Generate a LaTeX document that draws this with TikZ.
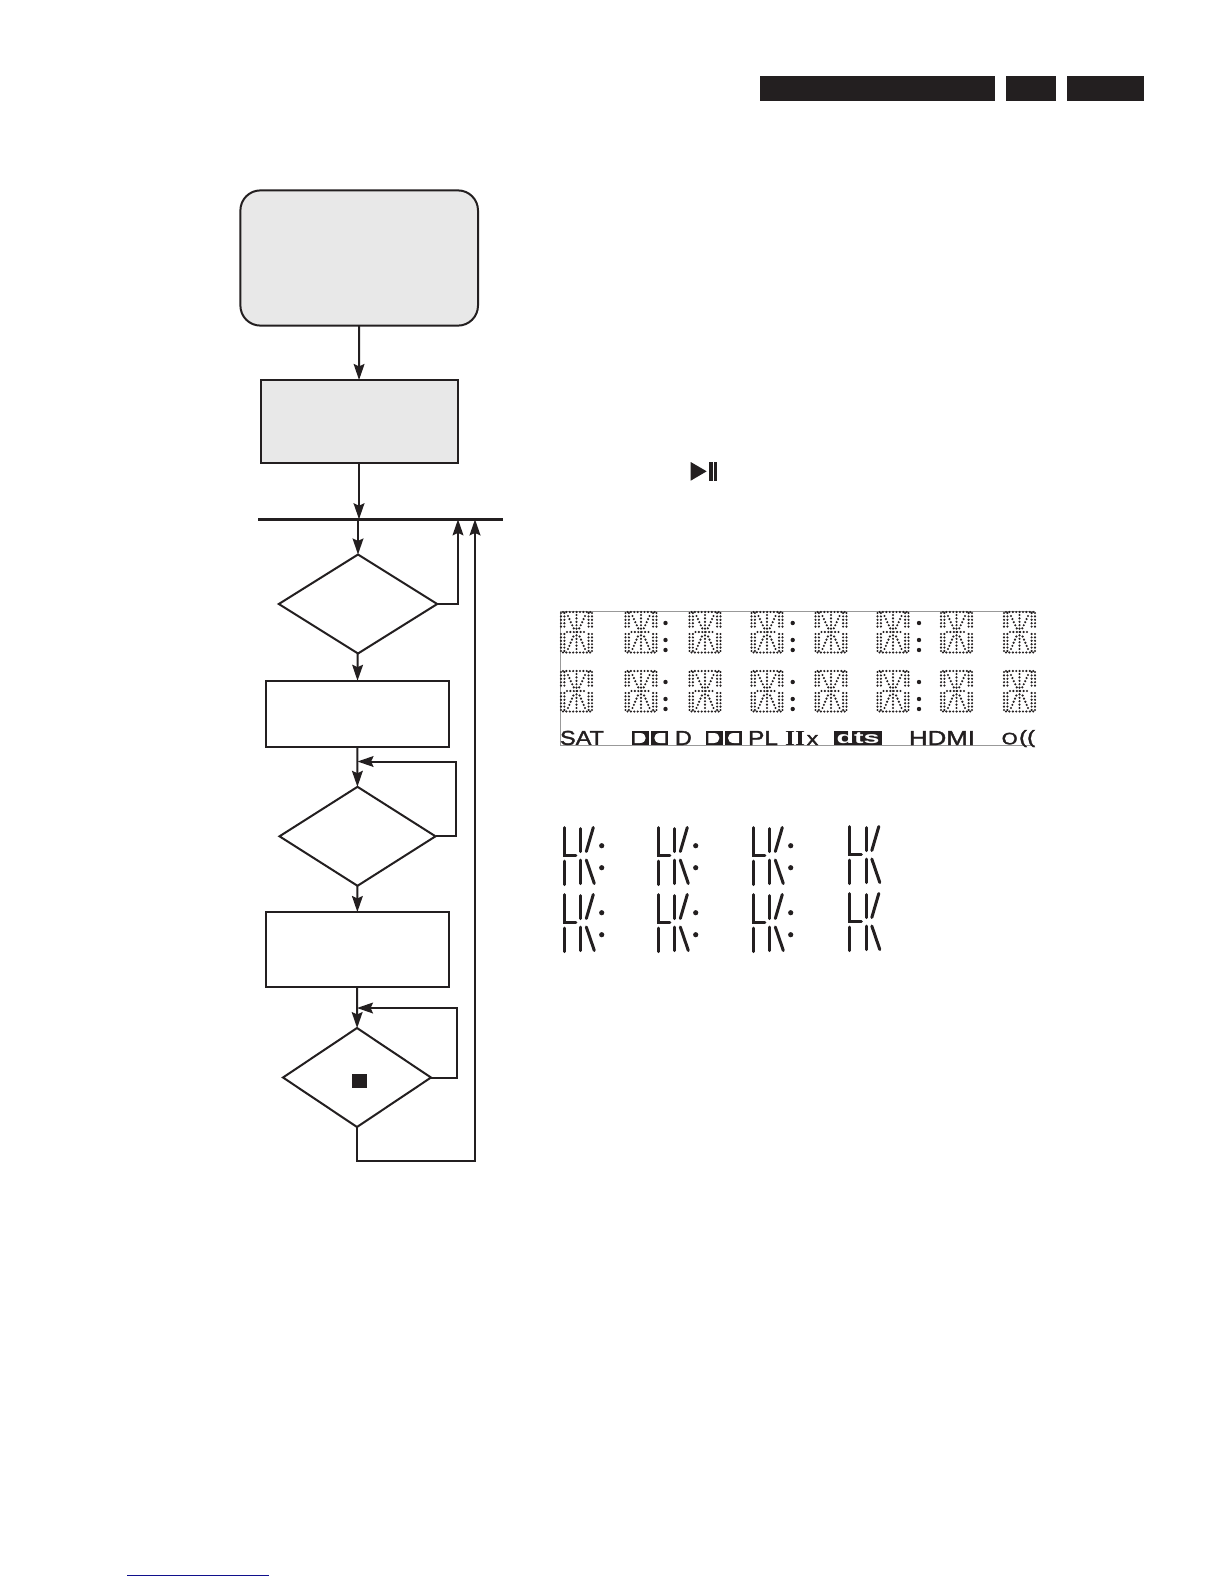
\documentclass[tikz,border=0pt]{standalone}
\usepackage{graphicx}
\usepackage{fontspec}
\setmainfont{Liberation Sans}
\newfontfamily\lcdfont[FakeBold=1.6]{Liberation Sans}
\newfontfamily\serifbold[BoldFont={Liberation Serif Bold}]{Liberation Serif}
\usetikzlibrary{arrows.meta,shapes.geometric}
\definecolor{ink}{HTML}{231F20}
\definecolor{boxgray}{HTML}{E8E8E8}
\definecolor{framegray}{HTML}{999999}
\definecolor{linkblue}{HTML}{10108C}
\tikzset{
  flowline/.style={draw=ink,line width=1bp,-{Stealth[length=8bp,width=5.4bp,inset=1.2bp]}},
  startbox/.style={draw=ink,fill=boxgray,line width=1bp,rounded corners=10bp,inner sep=0pt,outer sep=0pt},
  graybox/.style={draw=ink,fill=boxgray,line width=1bp,inner sep=0pt,outer sep=0pt},
  whitebox/.style={draw=ink,fill=white,line width=1bp,inner sep=0pt,outer sep=0pt},
  decision/.style={draw=ink,fill=white,line width=1bp,diamond,inner sep=0pt,outer sep=0pt,minimum width=78bp,minimum height=49.5bp},
  headbar/.style={fill=ink,draw=none},
  lcdtext/.style={inner sep=0pt,outer sep=0pt,anchor=south west,text=ink},
  dotline/.style={draw=ink,line width=1.2bp,line cap=round,dash pattern=on 0pt off 1.7bp},
  segline/.style={draw=ink,line width=1.5bp,line cap=round},
  dotglyph/.pic={
    \foreach \x in {0,3.4,27.6,31}{
      \draw[dotline] (\x,1) -- (\x,18);
      \draw[dotline] (\x,22) -- (\x,40);
    }
    \draw[dotline] (2,0) -- (30,0);
    \draw[dotline] (2,40.5) -- (30,40.5);
    \draw[dotline] (6,20) -- (26,20);
    \draw[dotline] (15.5,3) -- (15.5,38);
    \draw[dotline] (7,4) -- (13,17);
    \draw[dotline] (24,4) -- (18,17);
    \draw[dotline] (7,37) -- (13,23);
    \draw[dotline] (24,37) -- (18,23);
  },
  dotcolon/.pic={
    \fill[ink] (0,0) circle[radius=2.2];
    \fill[ink] (0,17) circle[radius=2.2];
    \fill[ink] (0,27) circle[radius=2.2];
  },
  segglyph/.pic={
    \draw[segline] (0,0.5) -- (0,28) -- (11.5,28);
    \draw[segline] (16.5,1.5) -- (16.5,24.5);
    \draw[segline] (22,24.5) -- (29,0.5);
    \draw[segline] (0,34) -- (0,57.5);
    \draw[segline] (16.5,33) -- (16.5,56.5);
    \draw[segline] (22,33) -- (30,56.5);
  },
  segdots/.pic={
    \fill[ink] (0,0) circle[radius=2.6];
    \fill[ink] (0,22) circle[radius=2.6];
  },
  dolbymark/.pic={
    \fill[ink] (0,0) rectangle (17,14);
    \fill[white] (2.6,2) -- (8,2) .. controls (15.6,2) and (15.6,12) .. (8,12) -- (2.6,12) -- cycle;
    \fill[ink] (19,0) rectangle (36,14);
    \fill[white] (33.4,2) -- (28,2) .. controls (20.4,2) and (20.4,12) .. (28,12) -- (33.4,12) -- cycle;
  }
}
\begin{document}
\begin{tikzpicture}[x=0.5bp,y=-0.5bp]
\useasboundingbox (0,0) rectangle (1224,1584);

% header bars
\fill[headbar] (760,76) rectangle (995,100.7);
\fill[headbar] (1006,76) rectangle (1056,100.7);
\fill[headbar] (1067,76) rectangle (1144,100.7);

% flow nodes
\node[startbox,minimum width=118.8bp,minimum height=67.6bp] (start) at (359.2,258) {};
\node[graybox,minimum width=98.5bp,minimum height=41.3bp] (init) at (359,421.3) {};
\node[decision,minimum width=79.2bp] (d1) at (358,604) {};
\node[whitebox,minimum width=91.4bp,minimum height=33bp] (b1) at (357.3,713.8) {};
\node[decision] (d2) at (357.5,836.3) {};
\node[whitebox,minimum width=91.4bp,minimum height=37.5bp] (b2) at (357.3,949.5) {};
\node[decision,minimum width=74bp] (d3) at (357,1077.5) {};
\fill[ink] (352,1074) rectangle (367,1088);

% thick bar
\coordinate (barL) at (258,519.3);
\coordinate (barR) at (503,519.3);
\coordinate (barIn) at (init.south |- barL);
\coordinate (barOut) at (d1.north |- barL);
\coordinate (barA) at (458,519.3);
\coordinate (barB) at (475,519.3);
\draw[ink,line width=1.5bp] (barL) -- (barR);

% connectors
\draw[flowline] (start) -- (init);
\draw[flowline] (init) -- (barIn);
\draw[flowline] (barOut) -- (d1.north);
\draw[flowline] (d1.east) -| (barA);
\draw[flowline] (d1) -- (b1);
\draw[flowline] (b1) -- (d2);
\coordinate (loop1) at (d2.north |- 0,761.5);
\draw[flowline] (d2.east) -- ++(20.5,0) |- (loop1);
\draw[flowline] (d2) -- (b2);
\draw[flowline] (b2) -- (d3);
\coordinate (loop2) at (d3.north |- 0,1008);
\draw[flowline] (d3.east) -- ++(26,0) |- (loop2);
\coordinate (under) at (d3.south |- 0,1161);
\draw[flowline,line width=1.2bp] (d3.south) -- (under) -| (barB);

% play / pause symbol
\fill[ink] (690.7,462) -- (706.7,471.3) -- (690.7,480.7) -- cycle;
\fill[ink] (709,462) rectangle (712.6,480.7);
\fill[ink] (714,462) rectangle (717.4,480.7);

% dot matrix panel
\draw[framegray,line width=0.5bp] (1035,611.3) -- (560,611.3) -- (560,745) -- (1035,745);
\foreach \gx in {561,625.5,689.5,751.5,815.5,877.5,941,1004}{
  \pic at (\gx,612) {dotglyph};
  \pic at (\gx,671) {dotglyph};
}
\foreach \cx in {665.5,792.7,919}{
  \pic at (\cx,623) {dotcolon};
  \pic at (\cx,682) {dotcolon};
}

% panel legends
\node[lcdtext] (tSat) at (560,745) {\resizebox{22bp}{7bp}{\lcdfont SAT}};
\pic at (632,731) {dolbymark};
\node[lcdtext] (tD) at (675,745) {\resizebox{8.4bp}{7bp}{\lcdfont D}};
\pic at (705.7,731) {dolbymark};
\node[lcdtext] (tPL) at (748,745) {\resizebox{15bp}{7bp}{\lcdfont PL}};
\node[lcdtext] (tII) at (785,745) {\resizebox{10bp}{7bp}{\serifbold\bfseries II}};
\node[lcdtext] (tx) at (806.7,745) {\resizebox{5.8bp}{5bp}{\lcdfont x}};
\fill[ink] (834,730.7) rectangle (881.7,744.7);
\node[lcdtext,text=white] (tDts) at (836.5,743.7) {\resizebox{21.5bp}{6bp}{\bfseries dts}};
\node[lcdtext] (tHdmi) at (909,745) {\resizebox{33bp}{7bp}{\lcdfont HDMI}};
\node[lcdtext] (tO) at (1001.7,744.5) {\resizebox{8bp}{5.8bp}{\lcdfont O}};
\node[lcdtext,anchor=west] (tPar) at (1019,738.5) {\resizebox{8bp}{6.6bp}{\lcdfont ((}};

% segment key
\foreach \ox/\oy in {0/0,94/0,189/0,285.5/-1,0/67,94/67,189/67,285.5/66}{
  \pic at (564.3+\ox,827+\oy) {segglyph};
}
\foreach \ox/\oy in {0/0,94/0,189/0,0/67,94/67,189/67}{
  \pic at (601.7+\ox,845.7+\oy) {segdots};
}

% blue rule
\draw[linkblue,line width=0.6bp] (127,1575.3) -- (268.7,1575.3);
\end{tikzpicture}
\end{document}
